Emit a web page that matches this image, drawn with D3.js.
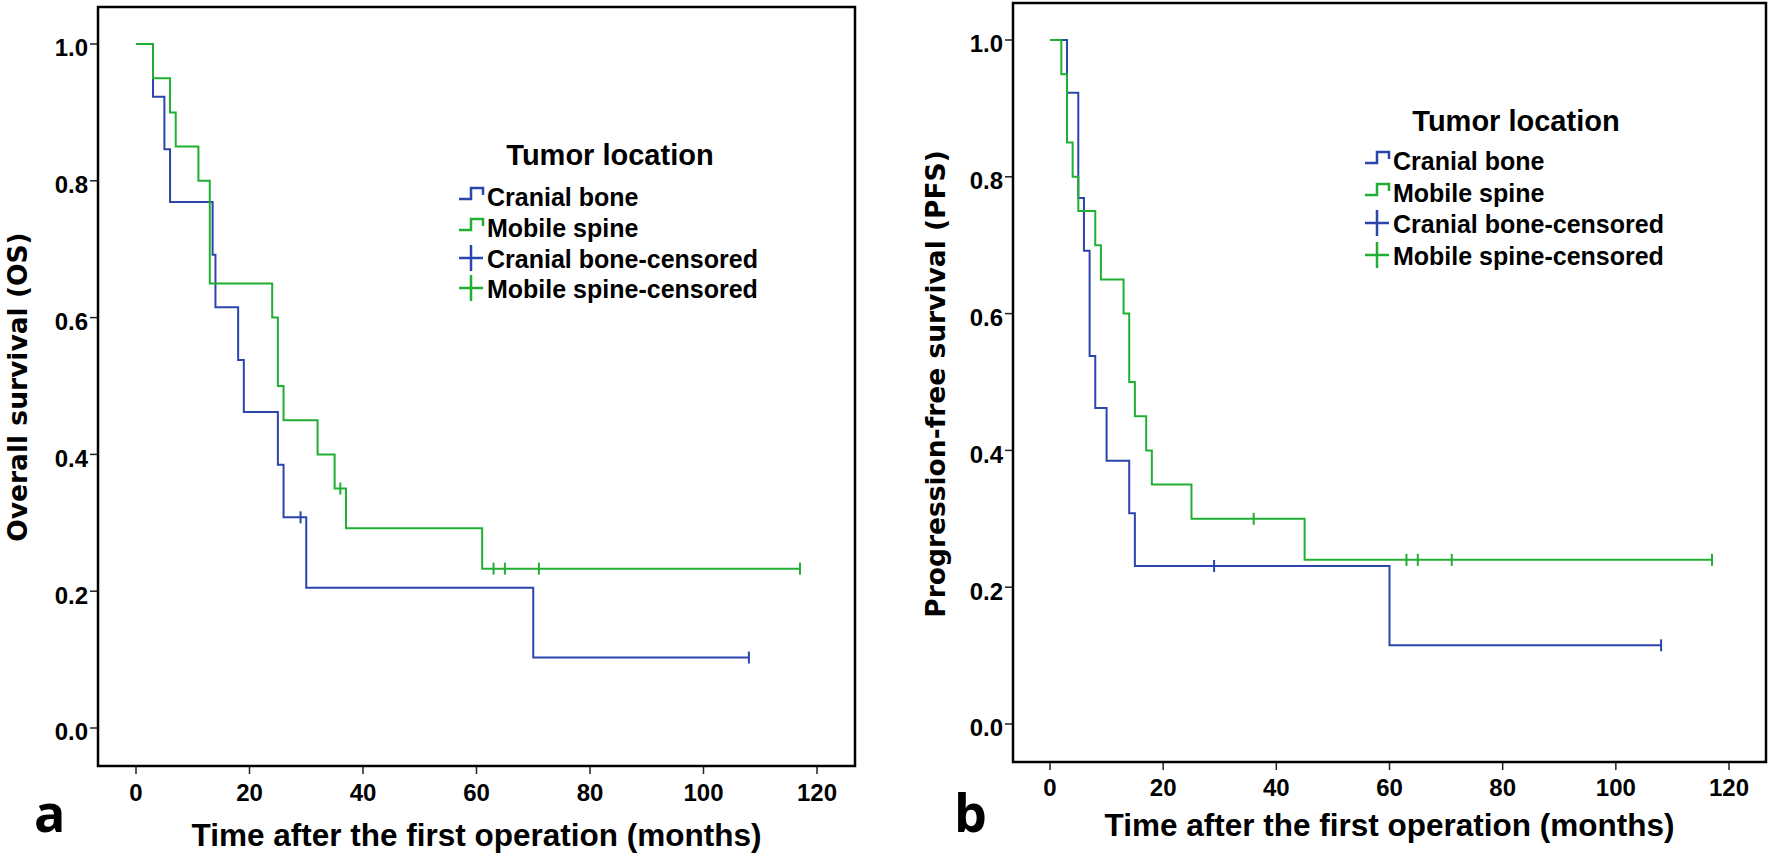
<!DOCTYPE html>
<html><head><meta charset="utf-8">
<script src="https://cdn.jsdelivr.net/npm/d3@7"></script>
<style>body{margin:0;background:#fff}svg{display:block}</style>
</head><body>
<svg id="chart" width="1770" height="859"></svg>
<script>
// ---------- data ----------
const xTicks = [0, 20, 40, 60, 80, 100, 120];
const yTicks = [0, 0.2, 0.4, 0.6, 0.8, 1.0];
const legendTitle = "Tumor location";
const legendLabels = ["Cranial bone", "Mobile spine", "Cranial bone-censored", "Mobile spine-censored"];
const xTitle = "Time after the first operation (months)";

// Panel a: Overall survival
const osCranialTimes = [0, 3, 5, 6, 13.5, 14, 18, 19, 25, 26, 30, 70];
const osCranialSurv  = [1, 0.923, 0.846, 0.769, 0.692, 0.615, 0.538, 0.462, 0.385, 0.308, 0.205, 0.103];
const osCranialCensTimes = [29, 108];
const osCranialCensSurv  = [0.308, 0.103];

const osSpineTimes = [0, 3, 6, 7, 11, 13, 24, 25, 26, 32, 35, 37, 61];
const osSpineSurv  = [1, 0.95, 0.90, 0.85, 0.80, 0.65, 0.60, 0.50, 0.45, 0.40, 0.35, 0.292, 0.233];
const osSpineCensTimes = [36, 63, 65, 71, 117];
const osSpineCensSurv  = [0.35, 0.233, 0.233, 0.233, 0.233];

// Panel b: Progression-free survival
const pfsCranialTimes = [0, 3, 5, 6, 7, 8, 10, 14, 15, 60];
const pfsCranialSurv  = [1, 0.923, 0.769, 0.692, 0.538, 0.462, 0.385, 0.308, 0.231, 0.115];
const pfsCranialCensTimes = [29, 108];
const pfsCranialCensSurv  = [0.231, 0.115];

const pfsSpineTimes = [0, 2, 3, 4, 5, 8, 9, 13, 14, 15, 17, 18, 25, 45];
const pfsSpineSurv  = [1, 0.95, 0.85, 0.80, 0.75, 0.70, 0.65, 0.60, 0.50, 0.45, 0.40, 0.35, 0.30, 0.24];
const pfsSpineCensTimes = [36, 63, 65, 71, 117];
const pfsSpineCensSurv  = [0.30, 0.24, 0.24, 0.24, 0.24];

const colCranial = "#2b45ad";
const colSpine = "#20af33";

// ---------- layout ----------
const panels = [
  {
    frame: {l: 98, t: 7, r: 855, b: 766}, xRange: [136, 817], yRange: [728, 44],
    yTitle: "Overall survival (OS)", yTitleX: 27, yTitleY: 387, xTitleY: 846, tickLabelY: 801,
    letter: "a", letterX: 34, letterY: 832,
    legend: {titleX: 610, titleY: 165, symX: 459, textX: 487, itemY: [206, 237, 268, 298]},
    series: [
      {times: osCranialTimes, surv: osCranialSurv, ct: osCranialCensTimes, cs: osCranialCensSurv, color: colCranial},
      {times: osSpineTimes, surv: osSpineSurv, ct: osSpineCensTimes, cs: osSpineCensSurv, color: colSpine}
    ]
  },
  {
    frame: {l: 1013, t: 3, r: 1766, b: 762}, xRange: [1050, 1729], yRange: [724, 40],
    yTitle: "Progression-free survival (PFS)", yTitleX: 945, yTitleY: 384, xTitleY: 836, tickLabelY: 796,
    letter: "b", letterX: 954, letterY: 832,
    legend: {titleX: 1516, titleY: 131, symX: 1365, textX: 1393, itemY: [170, 202, 233, 265]},
    series: [
      {times: pfsCranialTimes, surv: pfsCranialSurv, ct: pfsCranialCensTimes, cs: pfsCranialCensSurv, color: colCranial},
      {times: pfsSpineTimes, surv: pfsSpineSurv, ct: pfsSpineCensTimes, cs: pfsSpineCensSurv, color: colSpine}
    ]
  }
];

const svg = d3.select("#chart");
svg.append("rect").attr("width", 1770).attr("height", 859).attr("fill", "#fff");
const sans = "'Liberation Sans', Arial, Helvetica, sans-serif";

panels.forEach(p => {
  const g = svg.append("g");
  const x = d3.scaleLinear().domain([0, 120]).range(p.xRange);
  const y = d3.scaleLinear().domain([0, 1]).range(p.yRange);
  const f = p.frame;

  // ticks
  g.selectAll(".xt").data(xTicks).join("line")
    .attr("x1", d => x(d)).attr("x2", d => x(d))
    .attr("y1", f.b).attr("y2", f.b + 8)
    .attr("stroke", "#222").attr("stroke-width", 1.5);
  g.selectAll(".xl").data(xTicks).join("text")
    .attr("x", d => x(d)).attr("y", p.tickLabelY)
    .attr("text-anchor", "middle")
    .attr("font-family", sans).attr("font-weight", "bold").attr("font-size", 24)
    .text(d => d);
  g.selectAll(".yt").data(yTicks).join("line")
    .attr("x1", f.l - 8).attr("x2", f.l)
    .attr("y1", d => y(d)).attr("y2", d => y(d))
    .attr("stroke", "#222").attr("stroke-width", 1.5);
  g.selectAll(".yl").data(yTicks).join("text")
    .attr("x", f.l - 10).attr("y", d => y(d)).attr("dy", "0.52em")
    .attr("text-anchor", "end")
    .attr("font-family", sans).attr("font-weight", "bold").attr("font-size", 24)
    .text(d => d3.format(".1f")(d));

  // frame
  g.append("rect").attr("x", f.l).attr("y", f.t)
    .attr("width", f.r - f.l).attr("height", f.b - f.t)
    .attr("fill", "none").attr("stroke", "#000").attr("stroke-width", 2.5);

  // curves
  const line = d3.line().x(d => x(d[0])).y(d => y(d[1])).curve(d3.curveStepAfter);
  p.series.forEach(s => {
    const pts = s.times.map((t, i) => [t, s.surv[i]]);
    const end = Math.max(d3.max(s.ct), d3.max(s.times));
    pts.push([end, s.surv[s.surv.length - 1]]);
    g.append("path").attr("d", line(pts))
      .attr("fill", "none").attr("stroke", s.color).attr("stroke-width", 2);
    g.selectAll(null).data(s.ct.map((t, i) => [t, s.cs[i]])).join("line")
      .attr("x1", d => x(d[0])).attr("x2", d => x(d[0]))
      .attr("y1", d => y(d[1]) - 6).attr("y2", d => y(d[1]) + 6)
      .attr("stroke", s.color).attr("stroke-width", 2);
  });

  // titles
  g.append("text").attr("x", (f.l + f.r) / 2).attr("y", p.xTitleY)
    .attr("text-anchor", "middle")
    .attr("font-family", sans).attr("font-weight", "bold").attr("font-size", 31.5)
    .text(xTitle);
  g.append("text")
    .attr("transform", `translate(${p.yTitleX},${p.yTitleY}) rotate(-90)`)
    .attr("text-anchor", "middle")
    .attr("font-family", "'DejaVu Sans', Verdana, sans-serif").attr("font-weight", "bold").attr("font-size", 26.5)
    .text(p.yTitle);
  g.append("text").attr("x", p.letterX).attr("y", p.letterY)
    .attr("font-family", "'Open Sans', sans-serif").attr("font-weight", "bold").attr("font-size", 52)
    .text(p.letter);

  // legend
  const L = p.legend;
  g.append("text").attr("x", L.titleX).attr("y", L.titleY)
    .attr("text-anchor", "middle")
    .attr("font-family", sans).attr("font-weight", "bold").attr("font-size", 29)
    .text(legendTitle);
  const legColors = [colCranial, colSpine, colCranial, colSpine];
  legendLabels.forEach((lab, i) => {
    const by = L.itemY[i];
    if (i < 2) {
      g.append("path")
        .attr("d", `M${L.symX},${by - 7}H${L.symX + 12}V${by - 18}H${L.symX + 24}V${by - 11}`)
        .attr("fill", "none").attr("stroke", legColors[i]).attr("stroke-width", 2.5);
    } else {
      g.append("path")
        .attr("d", `M${L.symX},${by - 10}H${L.symX + 24}M${L.symX + 12},${by - 23}V${by + 3}`)
        .attr("fill", "none").attr("stroke", legColors[i]).attr("stroke-width", 2.5);
    }
    g.append("text").attr("x", L.textX).attr("y", by)
      .attr("font-family", sans).attr("font-weight", "bold").attr("font-size", 25)
      .text(lab);
  });
});
</script>
</body></html>
